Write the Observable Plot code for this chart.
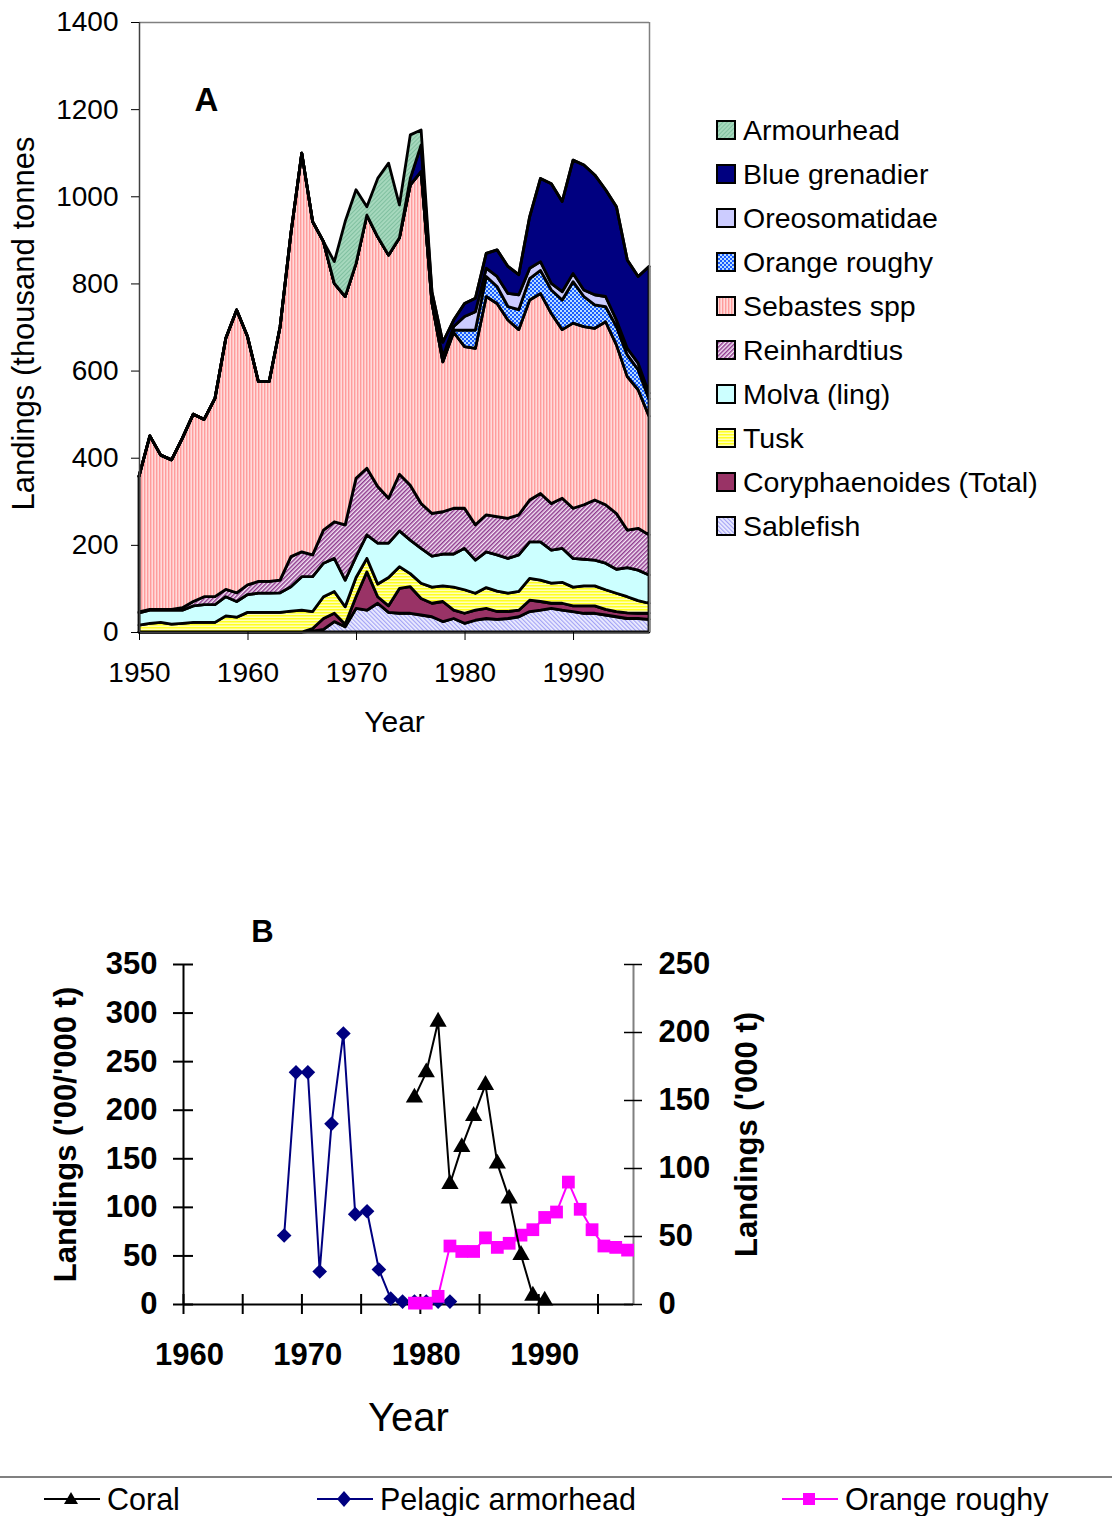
<!DOCTYPE html>
<html>
<head>
<meta charset="utf-8">
<script src="https://cdn.jsdelivr.net/npm/d3@7"></script>
<script src="https://cdn.jsdelivr.net/npm/@observablehq/plot@0.6"></script>
<style>
  body { margin: 0; background: #fff; font-family: "Liberation Sans", Arial, sans-serif; }
  #page { position: relative; width: 1112px; height: 1516px; overflow: hidden; background: #fff; }
  .abs { position: absolute; }
  .legA { position: absolute; left: 716px; height: 30px; display: flex; align-items: center; font-size: 28.5px; color: #000; white-space: nowrap; }
  .legA svg { margin-right: 7px; }
  .legB { position: absolute; top: 1483px; height: 32px; display: flex; align-items: center; font-size: 30.5px; line-height: 32px; color: #000; white-space: nowrap; }
  .legB svg { margin-right: 6px; }
</style>
</head>
<body>
<svg width="0" height="0" style="position:absolute">
  <defs>
    <pattern id="pSeb" width="3" height="3" patternUnits="userSpaceOnUse">
      <rect width="3" height="3" fill="#ffdada"/>
      <rect width="1.4" height="3" fill="#ff9c9c"/>
    </pattern>
    <pattern id="pReinh" width="3" height="3" patternUnits="userSpaceOnUse" patternTransform="rotate(45)">
      <rect width="3" height="3" fill="#f6e8f6"/>
      <rect width="1.5" height="3" fill="#8e3a8e"/>
    </pattern>
    <pattern id="pMolva" width="4" height="4" patternUnits="userSpaceOnUse">
      <rect width="4" height="4" fill="#ccffff"/>
    </pattern>
    <pattern id="pTusk" width="3" height="3" patternUnits="userSpaceOnUse">
      <rect width="3" height="3" fill="#ffffb8"/>
      <rect width="3" height="1.5" fill="#ffff22"/>
    </pattern>
    <pattern id="pCory" width="4" height="4" patternUnits="userSpaceOnUse">
      <rect width="4" height="4" fill="#993366"/>
    </pattern>
    <pattern id="pSable" width="3" height="3" patternUnits="userSpaceOnUse" patternTransform="rotate(-45)">
      <rect width="3" height="3" fill="#eeeeff"/>
      <rect width="1.2" height="3" fill="#a3a3f5"/>
    </pattern>
    <pattern id="pRoughy" width="4" height="4" patternUnits="userSpaceOnUse">
      <rect width="4" height="4" fill="#b8dcff"/>
      <rect x="0" y="0" width="2" height="2" fill="#1a5cff"/>
      <rect x="2" y="2" width="2" height="2" fill="#1a5cff"/>
    </pattern>
    <pattern id="pOreo" width="4" height="4" patternUnits="userSpaceOnUse">
      <rect width="4" height="4" fill="#ccccff"/>
    </pattern>
    <pattern id="pGren" width="4" height="4" patternUnits="userSpaceOnUse">
      <rect width="4" height="4" fill="#000080"/>
    </pattern>
    <pattern id="pArmour" width="3" height="3" patternUnits="userSpaceOnUse" patternTransform="rotate(45)">
      <rect width="3" height="3" fill="#a6d8bd"/>
      <rect width="1" height="3" fill="#80c0a0"/>
    </pattern>
  </defs>
</svg>
<div id="page">
  <div id="chartA" class="abs" style="left:0;top:0"></div>
  <div id="legendA"></div>
  <div id="chartB" class="abs" style="left:0;top:880px"></div>
  <div class="abs" style="left:0;top:1476px;width:1112px;height:2px;background:#808080"></div>
  <div id="legendB"></div>
</div>
<script>
// ---------------- Chart A data (thousand tonnes), 1950-1997 ----------------
const yearsA = d3.range(1950, 1998);
const sablefish = [0,0,0,0,0,0,0,0,0,0, 0,0,0,0,0,0,2,6,24,12, 54,50,66,45,43,43,39,35,24,31, 20,27,31,29,31,35,47,50,54,50, 47,43,43,39,35,31,31,29];
const coryphaenoides = [0,0,0,0,0,0,0,0,0,0, 0,0,0,0,0,0,6,25,19,6, 27,88,15,15,57,61,38,31,46,19, 23,23,23,18,16,15,26,20,12,16, 13,17,17,13,12,13,12,14];
const tusk = [16,20,22,18,20,22,22,22,37,34, 45,45,45,45,48,50,39,50,50,40, 44,31,29,65,50,30,35,37,36,53, 54,39,48,47,42,43,50,49,46,48, 43,46,46,45,42,37,29,23];
const molva = [28,30,28,32,30,38,41,41,44,36, 41,44,44,45,56,77,80,77,76,61, 48,54,94,79,82,77,80,71,73,76, 95,76,82,83,80,84,84,88,76,78, 66,61,59,61,55,67,70,65];
const reinhardtius = [2,2,2,2,6,10,18,18,17,20, 22,27,27,29,69,57,50,76,84,127, 180,153,130,103,130,126,103,98,97,105, 92,81,85,88,92,92,96,111,107,115, 115,125,138,134,128,86,96,92];
const sebastes = [311,398,354,343,389,430,407,455,576,649, 570,459,459,581,742,915,765,662,547,524, 493,581,573,558,543,689,762,483,344,404, 371,405,501,489,455,425,459,459,436,387, 425,409,394,420,387,352,318,272];
const orangeRoughy = [0,0,0,0,0,0,0,0,0,0, 0,0,0,0,0,0,0,0,0,0, 0,0,0,0,0,0,0,0,0,5, 38,42,46,39,31,46,49,53,54,68, 95,69,54,35,42,50,46,40];
const oreosomatidae = [0,0,0,0,0,0,0,0,0,0, 0,0,0,0,0,0,0,0,0,0, 0,0,0,0,0,0,0,0,12,8, 31,42,19,23,30,34,24,20,15,19, 19,15,23,23,15,15,15,13];
const blueGrenadier = [0,0,0,0,0,0,0,0,0,0, 0,0,0,0,0,0,0,0,0,0, 0,0,0,0,0,15,61,25,33,15, 30,31,34,61,62,46,118,191,229,207, 260,287,275,245,260,203,199,291];
const armourhead = [0,0,0,0,0,0,0,0,0,0, 0,0,0,0,0,0,0,0,50,172, 169,19,134,211,75,100,34,0,0,0, 0,0,0,0,0,0,0,0,0,0, 0,0,0,0,0,0,0,0];

const yTicksA = [0,200,400,600,800,1000,1200,1400];
const xTicksA = [1950,1960,1970,1980,1990];

// stacking order (bottom -> top)
const seriesOrder = ["Sablefish","Coryphaenoides (Total)","Tusk","Molva (ling)","Reinhardtius","Sebastes spp","Orange roughy","Oreosomatidae","Blue grenadier","Armourhead"];
const seriesValues = {
  "Sablefish": sablefish, "Coryphaenoides (Total)": coryphaenoides, "Tusk": tusk,
  "Molva (ling)": molva, "Reinhardtius": reinhardtius, "Sebastes spp": sebastes,
  "Orange roughy": orangeRoughy, "Oreosomatidae": oreosomatidae,
  "Blue grenadier": blueGrenadier, "Armourhead": armourhead
};
const seriesFill = {
  "Sablefish": "url(#pSable)", "Coryphaenoides (Total)": "url(#pCory)", "Tusk": "url(#pTusk)",
  "Molva (ling)": "url(#pMolva)", "Reinhardtius": "url(#pReinh)", "Sebastes spp": "url(#pSeb)",
  "Orange roughy": "url(#pRoughy)", "Oreosomatidae": "url(#pOreo)",
  "Blue grenadier": "url(#pGren)", "Armourhead": "url(#pArmour)"
};
const legendOrderA = ["Armourhead","Blue grenadier","Oreosomatidae","Orange roughy","Sebastes spp","Reinhardtius","Molva (ling)","Tusk","Coryphaenoides (Total)","Sablefish"];

const tableA = seriesOrder.flatMap(name => yearsA.map((year, i) => ({series: name, year, value: seriesValues[name][i]})));

// ---------------- Chart B data ----------------
const coralYears = [1979,1980,1981,1982,1983,1984,1985,1986,1987,1988,1989,1990];
const coralLandings = [213,239,291,124,162,194,226,145,109,51,9,4];            // left axis
const armorheadYears = [1968,1969,1970,1971,1972,1973,1974,1975,1976,1977,1978,1979,1980,1981,1982];
const armorheadLandings = [71,239,239,34,186,279,93,96,36,6,3,3,3,3,3];        // left axis
const roughyYears = [1979,1980,1981,1982,1983,1984,1985,1986,1987,1988,1989,1990,1991,1992,1993,1994,1995,1996,1997];
const roughyLandings = [1,1,6,43,39,39,49,42,45,51,55,64,68,90,70,55,43,42,40]; // right axis ('000 t)

const leftTicksB = [0,50,100,150,200,250,300,350];
const rightTicksB = [0,50,100,150,200,250];
const xLabelYearsB = [1960,1970,1980,1990];
const xTickMarksB = [1959.5,1964.5,1969.5,1974.5,1979.5,1984.5,1989.5,1994.5];
const rightToLeft = 350 / 250;

const coralData = coralYears.map((year, i) => ({year, value: coralLandings[i]}));
const armorData = armorheadYears.map((year, i) => ({year, value: armorheadLandings[i]}));
const roughyData = roughyYears.map((year, i) => ({year, value: roughyLandings[i] * rightToLeft}));

const FONT = "'Liberation Sans', Arial, sans-serif";

// ---------------- Chart A ----------------
const chartA = Plot.plot({
  width: 700, height: 750,
  marginTop: 22, marginLeft: 139, marginRight: 51, marginBottom: 118,
  x: {domain: [1950, 1997]},
  y: {domain: [0, 1400]},
  color: {domain: seriesOrder, range: seriesOrder.map(s => seriesFill[s])},
  style: {fontFamily: FONT, fontSize: "28px", color: "#000", background: "transparent", overflow: "visible"},
  marks: [
    Plot.areaY(tableA, Plot.stackY({x: "year", y: "value", z: "series", fill: "series", order: seriesOrder,
      stroke: "black", strokeWidth: 2.8, strokeLinejoin: "round"})),
    Plot.ruleY([1400], {stroke: "#808080", strokeWidth: 1.5}),
    Plot.ruleX([1997], {stroke: "#808080", strokeWidth: 1.5}),
    Plot.ruleX([1950], {stroke: "#404040", strokeWidth: 1.5}),
    Plot.ruleY([0], {stroke: "#404040", strokeWidth: 1.5}),
    Plot.axisY(yTicksA, {tickSize: 8, tickPadding: 13, label: null, tickFormat: d => String(d), fontSize: 28}),
    Plot.axisX(xTicksA, {tickSize: 8, tickPadding: 22, label: null, tickFormat: d => String(d), fontSize: 28}),
    Plot.text(["A"], {frameAnchor: "top-left", dx: 67, dy: 78, fontSize: 33, fontWeight: "bold", textAnchor: "middle", lineAnchor: "middle"}),
    Plot.text(["Year"], {frameAnchor: "bottom", dy: 90, fontSize: 30, textAnchor: "middle", lineAnchor: "middle"}),
    Plot.text(["Landings (thousand tonnes"], {frameAnchor: "left", dx: -115, dy: -4, rotate: -90, fontSize: 31, textAnchor: "middle", lineAnchor: "middle"})
  ]
});
document.getElementById("chartA").appendChild(chartA);

// Legend A
const legA = document.getElementById("legendA");
legendOrderA.forEach((name, i) => {
  const row = document.createElement("div");
  row.className = "legA";
  row.style.top = (115 + i * 44) + "px";
  row.innerHTML = `<svg width="20" height="20"><rect x="1" y="1" width="18" height="18" fill="${seriesFill[name]}" stroke="#000" stroke-width="2"/></svg><span>${name}</span>`;
  legA.appendChild(row);
});

// ---------------- Chart B ----------------
const chartB = Plot.plot({
  width: 800, height: 580,
  marginTop: 84, marginLeft: 183, marginRight: 167, marginBottom: 156,
  x: {domain: [1959.5, 1997.5]},
  y: {domain: [0, 350]},
  style: {fontFamily: FONT, fontSize: "31px", fontWeight: "bold", color: "#000", background: "transparent", overflow: "visible"},
  marks: [
    Plot.ruleX([1997.5], {stroke: "#808080", strokeWidth: 2}),
    Plot.tickY(rightTicksB.map(t => t * rightToLeft), {y: d => d, insetLeft: 441, insetRight: -9, strokeWidth: 1.5}),
    Plot.ruleX([1959.5], {stroke: "#000", strokeWidth: 2}),
    Plot.ruleY([0], {stroke: "#000", strokeWidth: 2}),
    Plot.tickY(leftTicksB, {y: d => d, insetLeft: -10, insetRight: 440, strokeWidth: 2}),
    Plot.tickX(xTickMarksB, {x: d => d, insetTop: 330, insetBottom: -10, strokeWidth: 2}),
    Plot.axisY(leftTicksB, {tickSize: 0, tickPadding: 26, label: null, tickFormat: d => String(d), fontSize: 31, fontWeight: "bold"}),
    Plot.axisY(rightTicksB.map(t => t * rightToLeft), {anchor: "right", tickSize: 0, tickPadding: 25, label: null,
      tickFormat: d => String(Math.round(d / rightToLeft)), fontSize: 31, fontWeight: "bold"}),
    Plot.axisX(xLabelYearsB, {tickSize: 0, tickPadding: 38, label: null, tickFormat: d => String(d), fontSize: 31, fontWeight: "bold"}),
    // series
    Plot.line(armorData, {x: "year", y: "value", stroke: "#000080", strokeWidth: 2}),
    Plot.dot(armorData, {x: "year", y: "value", symbol: "diamond2", r: 6.6, fill: "#000080"}),
    Plot.line(roughyData, {x: "year", y: "value", stroke: "#ff00ff", strokeWidth: 2}),
    Plot.dot(roughyData, {x: "year", y: "value", symbol: "square", r: 7.2, fill: "#ff00ff"}),
    Plot.line(coralData, {x: "year", y: "value", stroke: "#000", strokeWidth: 2}),
    Plot.dot(coralData, {x: "year", y: "value", symbol: "triangle", r: 6.4, fill: "#000"}),
    // texts
    Plot.text(["B"], {frameAnchor: "top-left", dx: 79, dy: -32, fontSize: 31, fontWeight: "bold", textAnchor: "middle", lineAnchor: "middle"}),
    Plot.text(["Year"], {frameAnchor: "bottom", dy: 114, fontSize: 40, fontWeight: "normal", textAnchor: "middle", lineAnchor: "middle"}),
    Plot.text(["Landings ('00/'000 t)"], {frameAnchor: "left", dx: -117, rotate: -90, fontSize: 31, fontWeight: "bold", textAnchor: "middle", lineAnchor: "middle"}),
    Plot.text(["Landings ('000 t)"], {frameAnchor: "right", dx: 114, rotate: -90, fontSize: 31, fontWeight: "bold", textAnchor: "middle", lineAnchor: "middle"})
  ]
});
document.getElementById("chartB").appendChild(chartB);

// Legend B
const legendB = [
  {name: "Coral", color: "#000", left: 43, marker: `<path d="M28,3 L35,15 L21,15 Z" fill="#000"/>`},
  {name: "Pelagic armorhead", color: "#000080", left: 316, marker: `<path d="M28,2 L35,10 L28,18 L21,10 Z" fill="#000080"/>`},
  {name: "Orange roughy", color: "#ff00ff", left: 781, marker: `<rect x="22" y="4" width="12" height="12" fill="#ff00ff"/>`}
];
const legB = document.getElementById("legendB");
legendB.forEach(item => {
  const row = document.createElement("div");
  row.className = "legB";
  row.style.left = item.left + "px";
  row.innerHTML = `<svg width="58" height="20"><line x1="1" y1="10" x2="57" y2="10" stroke="${item.color}" stroke-width="2"/>${item.marker}</svg><span>${item.name}</span>`;
  legB.appendChild(row);
});
</script>
</body>
</html>
